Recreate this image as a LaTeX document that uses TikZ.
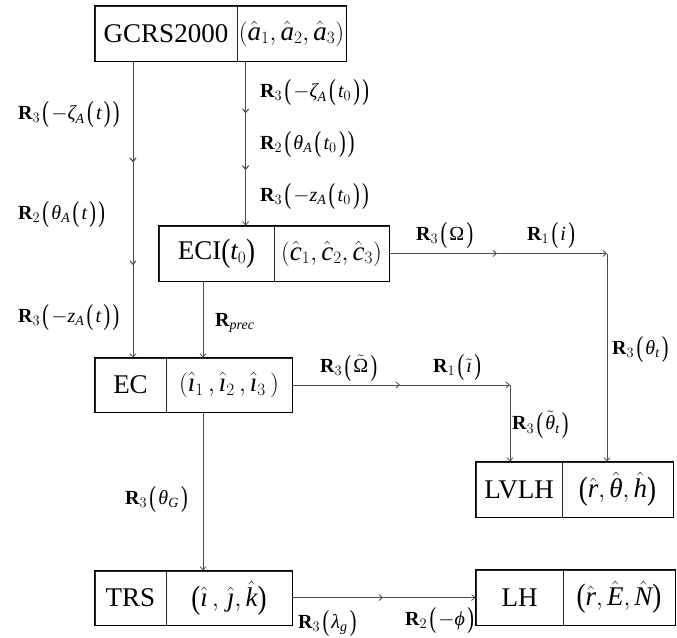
\documentclass[tikz,border=0pt]{standalone}
\usepackage{amsmath}
\usepackage{graphicx}
\usepackage{fontspec}
\setmainfont{Liberation Serif}
\usetikzlibrary{arrows.meta,decorations.markings}

% italic letters in formulas, taken from the text font
\newcommand{\vi}[1]{\text{\itshape #1}}
% stretched parentheses: #1 is the vertical stretch, #2 the shift
\newcommand{\Lp}[2]{\mathopen{\raisebox{#2}{\scalebox{1}[#1]{(}}}}
\newcommand{\Rp}[2]{\mathclose{\raisebox{#2}{\scalebox{1}[#1]{)}}}}
% tall parentheses used in the rotation labels
\newcommand{\Pa}[1]{\mkern2mu\Lp{1.45}{-0.125em}\mkern2mu#1\mkern2mu\Rp{1.45}{-0.125em}}
% slightly tall parentheses used in the frame cells
\newcommand{\Pb}[1]{\Lp{1.2}{-0.06em}#1\Rp{1.2}{-0.06em}}

\tikzset{
  cell/.style={draw=black!85, line width=0.7pt, inner sep=0pt, font=\fontsize{27}{31}\selectfont},
  frame/.style={draw=black, line width=1.4pt},
  conn/.style={draw=black!70, line width=0.8pt},
  tip/.style={-{Straight Barb[length=3.5pt,width=6pt]}},
  midtip/.style={postaction={decorate}, decoration={markings,
      mark=at position #1 with {\arrow{Straight Barb[length=3.5pt,width=6pt]}}}},
  lab/.style={anchor=west, inner sep=0pt, font=\fontsize{20}{23}\selectfont},
}

\begin{document}
\begin{tikzpicture}[x=1pt,y=-1pt]
\useasboundingbox (0,0) rectangle (677,637);

% frames: each is a name cell and a basis cell
\node[cell, minimum width=142, minimum height=55] (gcrsL) at (166,33.5) {GCRS2000};
\node[cell, minimum width=109, minimum height=55] (gcrsR) at (291.5,33.5) {$(\hat{\vi{a}}_1,\hat{\vi{a}}_2,\hat{\vi{a}}_3)$};
\draw[frame] (gcrsL.north west) rectangle (gcrsR.south east);

\node[cell, minimum width=115, minimum height=55] (eciL) at (216.5,253.5) {ECI$\Pb{\vi{t}_0}$};
\node[cell, minimum width=115, minimum height=55] (eciR) at (331.5,253.5) {$(\hat{\vi{c}}_1,\hat{\vi{c}}_2,\hat{\vi{c}}_3)$};
\draw[frame] (eciL.north west) rectangle (eciR.south east);

\node[cell, minimum width=71, minimum height=54] (ecL) at (130.5,385) {EC};
\node[cell, minimum width=126, minimum height=54] (ecR) at (229,385) {$(\hat{\vi{ı}}_1\,,\hat{\vi{ı}}_2\,,\hat{\vi{ı}}_3\,)$};
\draw[frame] (ecL.north west) rectangle (ecR.south east);

\node[cell, minimum width=86, minimum height=55] (lvlhL) at (519,489.5) {LVLH};
\node[cell, minimum width=111, minimum height=55] (lvlhR) at (617.5,489.5) {$\Pb{\hat{\vi{r}},\hat{\vi{θ}},\hat{\vi{h}}}$};
\draw[frame] (lvlhL.north west) rectangle (lvlhR.south east);

\node[cell, minimum width=71, minimum height=54] (trsL) at (130.5,598) {TRS};
\node[cell, minimum width=126, minimum height=54] (trsR) at (229,598) {$\Pb{\hat{\vi{ı}}\,,\,\hat{\vi{ȷ}},\hat{\vi{k}}}$};
\draw[frame] (trsL.north west) rectangle (trsR.south east);

\node[cell, minimum width=87, minimum height=55] (lhL) at (519.5,597.5) {LH};
\node[cell, minimum width=112, minimum height=55] (lhR) at (619,597.5) {$\Pb{\hat{\vi{r}},\hat{\vi{E}},\hat{\vi{N}}}$};
\draw[frame] (lhL.north west) rectangle (lhR.south east);

% corner points of the two routes into LVLH
\coordinate (c1) at (607,253.5);
\coordinate (c2) at (510,385);

% connectors
\draw[conn, tip, midtip=0.34, midtip=0.687] (gcrsL.south -| ecL.north) ++(2.5,0) coordinate (a0) -- (a0 |- ecL.north);
\draw[conn, tip, midtip=0.315, midtip=0.66] ([xshift=9]gcrsR.south west) coordinate (b0) -- (b0 |- eciL.north);
\draw[conn, tip] ([xshift=-13.5]eciL.south) coordinate (p0) -- (p0 |- ecR.north);
\draw[conn, tip, midtip=0.495] (eciR.east) -- (c1);
\draw[conn, tip] (c1) -- (c1 |- lvlhR.north);
\draw[conn, tip, midtip=0.495] (ecR.east) -- (c2);
\draw[conn, tip] (c2) -- (c2 |- lvlhL.north);
\draw[conn, tip] ([xshift=-26]ecR.south) coordinate (g0) -- (g0 |- trsR.north);
\draw[conn, tip, midtip=0.495] (trsR.east |- lhL.west) -- (lhL.west);

% rotation labels
\node[lab] (r1) at (18,115) {$\mathbf{R}_3\Pa{-\vi{ζ}_{\vi{A}}\Pa{\vi{t}}}$};
\node[lab] (r2) at (18,215) {$\mathbf{R}_2\Pa{\vi{θ}_{\vi{A}}\Pa{\vi{t}}}$};
\node[lab] (r3) at (18,318) {$\mathbf{R}_3\Pa{-\vi{z}_{\vi{A}}\Pa{\vi{t}}}$};
\node[lab] (s1) at (260,93) {$\mathbf{R}_3\Pa{-\vi{ζ}_{\vi{A}}\Pa{\vi{t}_0}}$};
\node[lab] (s2) at (260,145) {$\mathbf{R}_2\Pa{\vi{θ}_{\vi{A}}\Pa{\vi{t}_0}}$};
\node[lab] (s3) at (260,197) {$\mathbf{R}_3\Pa{-\vi{z}_{\vi{A}}\Pa{\vi{t}_0}}$};
\node[lab] (pr) at (215,323) {$\mathbf{R}_{\vi{prec}}$};
\node[lab] (o1) at (416,236) {$\mathbf{R}_3\Pa{\text{Ω}}$};
\node[lab] (i1) at (527,236) {$\mathbf{R}_1\Pa{\vi{i}}$};
\node[lab] (t1) at (612,350) {$\mathbf{R}_3\Pa{\vi{θ}_{\vi{t}}}$};
\node[lab] (o2) at (320,368) {$\mathbf{R}_3\Pa{\tilde{\text{Ω}}}$};
\node[lab] (i2) at (433,368) {$\mathbf{R}_1\Pa{\tilde{\vi{ı}}}$};
\node[lab] (t2) at (512,425) {$\mathbf{R}_3\Pa{\tilde{\vi{θ}}_{\vi{t}}}$};
\node[lab] (tg) at (125,500) {$\mathbf{R}_3\Pa{\vi{θ}_{\vi{G}}}$};
\node[lab] (lg) at (298,624) {$\mathbf{R}_3\Pa{\vi{λ}_{\vi{g}}}$};
\node[lab] (ph) at (405,621) {$\mathbf{R}_2\Pa{-\vi{ϕ}}$};
\end{tikzpicture}
\end{document}
